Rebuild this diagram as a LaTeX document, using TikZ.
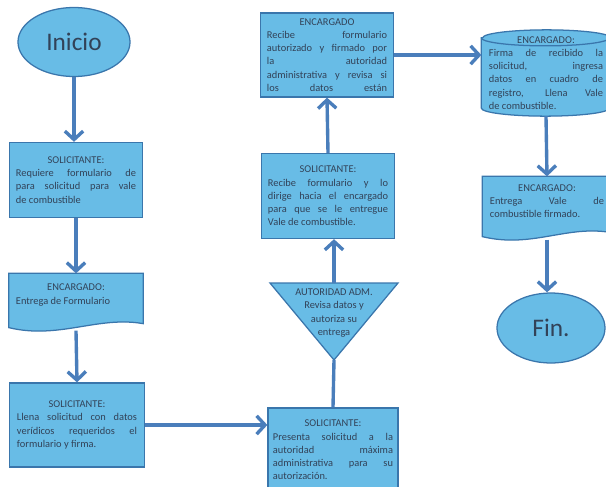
\documentclass[tikz,border=0pt]{standalone}
\usepackage{fontspec}
\setmainfont{Carlito}
\usetikzlibrary{shapes.geometric,arrows.meta,backgrounds,calc,positioning}

\definecolor{relleno}{RGB}{104,188,230}
\definecolor{borde}{RGB}{58,118,172}
\definecolor{linea}{RGB}{74,126,187}
\definecolor{letra}{RGB}{50,66,88}

\def \ancho {3.325cm}
\def \texto {3.0cm}
\newcommand\rol[1]{{\centering #1\par}}

\tikzset{
  caja/.style={draw=borde, fill=relleno, line width=0.9pt, text=letra, align=justify,
    inner sep=0pt, minimum width=\ancho, text width=\texto, font=\fontsize{7.4}{9.4}\selectfont},
  hoja/.style={caja, draw=none, fill=none},
  terminal/.style={ellipse, draw=borde, fill=relleno, line width=0.9pt, text=letra,
    inner sep=0pt, font=\fontsize{18}{20}\selectfont},
  contorno/.style={draw=borde, fill=relleno, line width=0.9pt},
  flecha/.style={draw=linea, line width=2.4pt, -{Straight Barb[length=6pt,width=13pt]}},
  tramo/.style={draw=linea, line width=2.4pt}
}

\begin{document}
\begin{tikzpicture}[x=0.025cm, y=-0.025cm]
\useasboundingbox (0,0) rectangle (606,487);

% left column
\node[terminal, minimum width=2.8cm, minimum height=1.725cm] (ini) at (74,42) {Inicio};
\node[caja, minimum height=1.875cm] (sol1) at (76,180)
  {\rol{SOLICITANTE:}Requiere formulario de\linebreak para solicitud para vale\linebreak de combustible};
\node[hoja, minimum height=1.4cm] (doc1) at (76,302)
  {\rol{ENCARGADO:}Entrega de Formulario\par\vspace{10pt}};
\node[caja, minimum height=2.1cm, minimum width=3.375cm] (sol2) at (77,425)
  {\rol{SOLICITANTE:}Llena solicitud con datos\linebreak verídicos requeridos el\linebreak formulario y firma.};

% middle column
\node[caja, minimum height=2.1cm, minimum width=3.25cm] (sol3) at (333,450)
  {\rol{SOLICITANTE:}Presenta solicitud a la\linebreak autoridad máxima\linebreak administrativa para su\linebreak autorización.};
\coordinate (t1) at (270,283);
\coordinate (t2) at (398,283);
\coordinate (tpico) at (334,360);
\coordinate (tbase) at (334,283);
\node[text=letra, align=center, inner sep=0pt, font=\fontsize{7.4}{9.4}\selectfont] (aut) at (334,313)
  {AUTORIDAD ADM.\\Revisa datos y\\autoriza su\\entrega};
\node[caja, minimum height=2.125cm] (sol4) at (328,196)
  {\rol{SOLICITANTE:}Recibe formulario y lo\linebreak dirige hacia el encargado\linebreak para que se le entregue\linebreak Vale de combustible.};
\node[caja, minimum height=2.1cm] (enc1) at (327,55)
  {\rol{ENCARGADO}Recibe formulario\linebreak autorizado y firmado por\linebreak la autoridad\linebreak administrativa y revisa si\linebreak {\parfillskip=0pt los datos están\par}};

% right column
\node[hoja, minimum height=2.125cm, minimum width=3.2cm, text width=2.85cm] (cil) at (546,73)
  {\rol{ENCARGADO:}Firma de recibido la\linebreak solicitud, ingresa\linebreak datos en cuadro de\linebreak registro, Llena Vale\linebreak de combustible.};
\node[hoja, minimum height=1.55cm, minimum width=3.2cm, text width=2.85cm] (doc2) at (547,208)
  {\rol{ENCARGADO:}Entrega Vale de\linebreak combustible firmado.\par\vspace{10pt}};
\node[terminal, minimum width=2.7cm, minimum height=1.75cm] (fin) at (551,328) {Fin.};

\begin{scope}[on background layer]
  \filldraw[contorno] (doc1.north west) -- (doc1.north east) -- ($(doc1.south east)+(0,-7)$)
    .. controls +(-45,-8) and +(50,12) .. ($(doc1.south west)+(0,-3)$) -- cycle;
  \filldraw[contorno] (doc2.north west) -- (doc2.north east) -- ($(doc2.south east)+(0,-7)$)
    .. controls +(-45,-8) and +(50,12) .. ($(doc2.south west)+(0,-3)$) -- cycle;
  \filldraw[contorno] (t1) -- (t2) -- (tpico) -- cycle;
  \filldraw[contorno] ([yshift=-0.2cm]cil.north west) -- ([yshift=0.2cm]cil.south west)
    arc[start angle=180, end angle=360, x radius=1.6cm, y radius=0.2cm]
    -- ([yshift=-0.2cm]cil.north east)
    arc[start angle=0, end angle=180, x radius=1.6cm, y radius=0.2cm] -- cycle;
  \draw[contorno, fill=none] ([yshift=-0.2cm]cil.north west)
    arc[start angle=180, end angle=360, x radius=1.6cm, y radius=0.2cm];
\end{scope}

% connectors
\draw[flecha] (ini.south) -- (ini.south |- sol1.north);
\draw[flecha] (sol1.south) -- (doc1.north);
\draw[flecha] (doc1.south) -- (sol2.north);
\draw[flecha] (sol2.east) -- (sol2.east -| sol3.west);
\draw[tramo] (sol3.north) -- (tpico);
\draw[flecha] (tbase) -- (tbase |- sol4.south);
\draw[flecha] (sol4.north) -- (enc1.south);
\draw[flecha] (enc1.east) -- (enc1.east -| cil.west);
\draw[flecha] (cil.south) -- (doc2.north);
\draw[flecha] (doc2.south) -- (doc2.south |- fin.north);
\end{tikzpicture}
\end{document}
